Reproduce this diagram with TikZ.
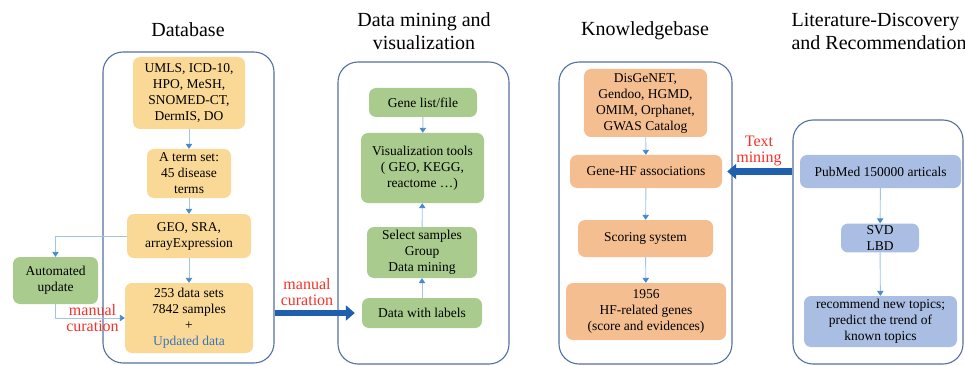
\documentclass[tikz,border=0pt]{standalone}
\usepackage{fontspec}
\setmainfont{LiberationSerif}[Extension=.ttf,UprightFont=*-Regular,BoldFont=*-Bold,ItalicFont=*-Italic]
\usetikzlibrary{arrows.meta}
\definecolor{panelline}{RGB}{84,112,162}
\definecolor{dbfill}{RGB}{250,217,150}
\definecolor{dmfill}{RGB}{169,203,141}
\definecolor{kbfill}{RGB}{244,190,145}
\definecolor{ltfill}{RGB}{169,190,226}
\definecolor{thinline}{RGB}{160,196,230}
\definecolor{thinhead}{RGB}{70,138,206}
\definecolor{bigblue}{RGB}{30,96,174}
\definecolor{curred}{RGB}{245,50,40}
\definecolor{updblue}{RGB}{52,116,190}

\begin{document}
\begin{tikzpicture}[line cap=round,line join=round,x=1.0pt,y=-1.0pt,
  panel/.style={draw=panelline,line width=1.1pt,rounded corners=20pt,inner sep=0pt},
  box/.style={rounded corners=7pt,align=center,inner sep=2pt,font=\fontsize{13.5}{16}\selectfont},
  dbbox/.style={box,fill=dbfill},
  dmbox/.style={box,fill=dmfill},
  kbbox/.style={box,fill=kbfill},
  ltbox/.style={box,fill=ltfill},
  thin/.style={draw=thinline,line width=0.9pt,-{Triangle[length=5pt,width=6.5pt,color=thinhead]}},
  big/.style={draw=bigblue,line width=6pt,line cap=butt,-{Triangle[length=9pt,width=15pt]}},
  title/.style={align=center,font=\fontsize{20}{23}\selectfont},
  redlab/.style={text=curred,align=center,font=\fontsize{16}{16.5}\selectfont}]
\useasboundingbox (0,0) rectangle (965,366);

% columns
\node[panel,minimum width=171pt,minimum height=311pt] (dbpanel) at (188.5,207.5) {};
\node[panel,minimum width=171pt,minimum height=302pt] (dmpanel) at (423.5,213) {};
\node[panel,minimum width=173pt,minimum height=302pt] (kbpanel) at (645.5,213) {};
\node[panel,minimum width=170pt,minimum height=244pt] (ltpanel) at (878,242) {};

\node[title] (dbtitle) at (188,30) {Database};
\node[title] (dmtitle) at (424,31) {Data mining and\\visualization};
\node[title] (kbtitle) at (645,31) {Knowledgebase};
\node[title,align=left,anchor=west] (lttitle) at (788,31) {Literature-Discovery\\and Recommendation};

% Database
\node[dbbox,minimum width=112pt,minimum height=72pt] (src) at (189,93) {UMLS, ICD-10,\\HPO, MeSH,\\SNOMED-CT,\\DermIS, DO};
\node[dbbox,minimum width=84pt,minimum height=49pt] (terms) at (189,173.5) {A term set:\\45 disease\\terms};
\node[dbbox,minimum width=124pt,minimum height=44pt] (geo) at (189,236) {GEO, SRA,\\arrayExpression};
\node[dbbox,minimum width=128pt,minimum height=70pt] (datasets) at (189,318) {253 data sets\\7842 samples\\+\\\textcolor{updblue}{Updated data}};
\node[dmbox,minimum width=85pt,minimum height=47pt] (auto) at (55.5,280.5) {Automated\\update};

\draw[thin] (src) -- (terms);
\draw[thin] (terms) -- (geo);
\draw[thin] (geo) -- (datasets);
\draw[thin] (geo.west) -| (auto.north);
\draw[thin] (auto.south) |- (datasets.west);
\node[redlab] (autolab) at (92.5,318) {manual\\curation};

% Data mining
\node[dmbox,minimum width=108pt,minimum height=29pt] (genelist) at (423,102.5) {Gene list/file};
\node[dmbox,minimum width=123pt,minimum height=70pt] (vistools) at (422.5,168) {Visualization tools\\( GEO, KEGG,\\reactome …)};
\node[dmbox,minimum width=110pt,minimum height=51pt] (select) at (422,252.5) {Select samples\\Group\\Data mining};
\node[dmbox,minimum width=120pt,minimum height=30pt] (datalab) at (422,313) {Data with labels};

\draw[thin] (genelist) -- (vistools);
\draw[thin] (select) -- (vistools);
\draw[thin] (datalab) -- (select);

% Knowledgebase
\node[kbbox,minimum width=123pt,minimum height=68pt] (kbsrc) at (645.5,103) {DisGeNET,\\Gendoo, HGMD,\\OMIM, Orphanet,\\GWAS Catalog};
\node[kbbox,minimum width=152pt,minimum height=33pt] (genehf) at (646,171.5) {Gene-HF associations};
\node[kbbox,minimum width=135pt,minimum height=37pt] (scoring) at (645.5,238.5) {Scoring system};
\node[kbbox,minimum width=160pt,minimum height=57pt] (hfgenes) at (646,311.5) {1956\\HF-related genes\\(score and evidences)};

\draw[thin] (kbsrc) -- (genehf);
\draw[thin] (genehf) -- (scoring);
\draw[thin] (scoring) -- (hfgenes);

% Literature
\node[ltbox,minimum width=161pt,minimum height=33pt] (pubmed) at (880.5,171.5) {PubMed 150000 articals};
\node[ltbox,minimum width=78pt,minimum height=28pt] (svd) at (880,238) {SVD\\LBD};
\node[ltbox,minimum width=153pt,minimum height=51pt] (recom) at (880.5,321.5) {recommend new topics;\\predict the trend of\\known topics};

\draw[thin] (pubmed) -- (svd);
\draw[thin] (svd) -- (recom);

% between columns
\draw[big,shorten >=7pt] (dbpanel.east |- datalab.west) -- (datalab.west);
\node[redlab] (curlab) at (307,292) {manual\\curation};
\draw[big,shorten >=5pt] (ltpanel.west |- genehf.east) -- (genehf.east);
\node[redlab] (minelab) at (759,151) {Text\\mining};
\end{tikzpicture}
\end{document}
